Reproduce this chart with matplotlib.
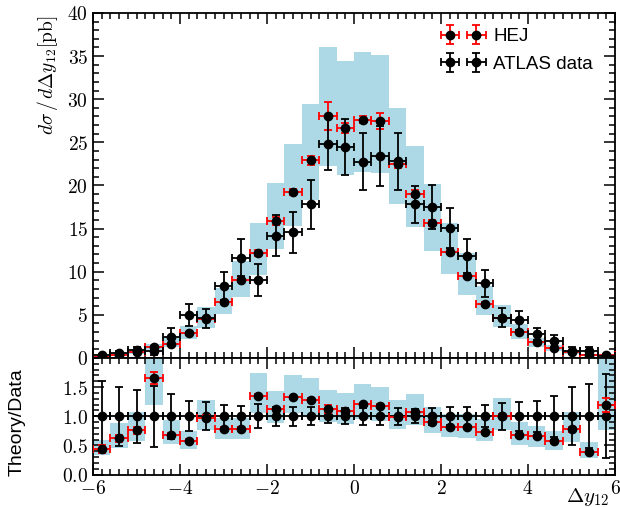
import numpy as np
import matplotlib
matplotlib.use('Agg')
import matplotlib.pyplot as plt
from matplotlib.ticker import MultipleLocator, FuncFormatter

plt.rcParams['mathtext.fontset'] = 'cm'

# bin centres of delta y12 (bin width 0.4)
dy = [-5.8, -5.4, -5.0, -4.6, -4.2, -3.8, -3.4, -3.0, -2.6, -2.2,
      -1.8, -1.4, -1.0, -0.6, -0.2, 0.2, 0.6, 1.0, 1.4, 1.8,
      2.2, 2.6, 3.0, 3.4, 3.8, 4.2, 4.6, 5.0, 5.4, 5.8]
half_bin = 0.2

atlas = [0.30, 0.55, 0.90, 0.78, 2.47, 4.98, 4.60, 8.33, 11.65, 9.03,
         14.20, 14.55, 17.80, 24.85, 24.46, 22.76, 23.40, 22.80, 17.80, 17.50,
         15.10, 11.80, 8.64, 4.67, 4.40, 2.78, 1.97, 0.85, 0.85, 0.25]
atlas_err = [0.18, 0.28, 0.41, 0.41, 0.95, 1.27, 1.10, 1.66, 2.10, 1.85,
             2.35, 2.40, 2.80, 3.05, 3.30, 3.30, 3.45, 3.30, 2.10, 2.50,
             2.30, 1.95, 1.60, 1.07, 1.10, 0.75, 0.69, 0.42, 0.47, 0.18]
hej = [0.13, 0.34, 0.68, 1.29, 1.68, 2.85, 4.50, 6.48, 9.10, 12.20,
       15.85, 19.25, 22.90, 28.05, 26.65, 27.60, 27.47, 22.50, 19.05, 15.66,
       12.30, 9.53, 6.25, 4.67, 2.97, 1.82, 1.12, 0.66, 0.33, 0.30]
hej_err = [0.02, 0.03, 0.05, 0.08, 0.10, 0.15, 0.20, 0.25, 0.30, 0.35,
           0.45, 0.35, 0.50, 1.65, 0.60, 0.40, 0.90, 0.50, 0.40, 0.35,
           0.30, 0.30, 0.20, 0.15, 0.10, 0.08, 0.06, 0.04, 0.03, 0.03]
band_lo = [0.10, 0.25, 0.51, 0.93, 1.28, 2.16, 3.50, 5.10, 7.10, 9.60,
           12.60, 15.30, 18.30, 22.30, 21.20, 21.60, 21.40, 17.80, 15.20, 12.40,
           9.70, 7.30, 5.00, 3.60, 2.25, 1.33, 0.83, 0.48, 0.24, 0.19]
band_hi = [0.18, 0.49, 0.96, 1.64, 2.30, 3.70, 5.90, 8.10, 11.30, 15.70,
           20.30, 24.80, 29.50, 36.00, 34.40, 35.50, 35.10, 29.00, 24.60, 20.20,
           15.70, 12.20, 8.30, 6.10, 3.95, 2.30, 1.48, 0.91, 0.48, 0.52]

x = np.array(dy)
data = np.array(atlas)
data_err = np.array(atlas_err)
theo = np.array(hej)
theo_err = np.array(hej_err)
lo = np.array(band_lo)
hi = np.array(band_hi)

fig = plt.figure(figsize=(6.2, 5.07), dpi=100)
ax1 = fig.add_axes([0.150, 0.2939, 0.842, 0.6805])
ax2 = fig.add_axes([0.150, 0.0641, 0.842, 0.2298])

eb = dict(fmt='o', color='black', markersize=6, elinewidth=1.3,
          capsize=3, capthick=1.3)

# main panel
ax1.bar(x, hi - lo, bottom=lo, width=0.4, color='lightblue', linewidth=0, zorder=1)
ax1.errorbar(x, theo, yerr=theo_err, xerr=half_bin, ecolor='red',
             label='HEJ', zorder=3, **eb)
ax1.errorbar(x, data, yerr=data_err, xerr=half_bin, ecolor='black',
             label='ATLAS data', zorder=4, **eb)

# ratio panel
ax2.bar(x, (hi - lo) / data, bottom=lo / data, width=0.4, color='lightblue',
        linewidth=0, zorder=1)
ax2.errorbar(x, np.ones_like(data), yerr=data_err / data, xerr=half_bin,
             ecolor='black', zorder=3, **eb)
ax2.errorbar(x, theo / data, yerr=theo_err / data, xerr=half_bin,
             ecolor='red', zorder=4, **eb)

ax1.set_xlim(-6, 6)
ax1.set_ylim(0, 40)
ax2.set_xlim(-6, 6)
ax2.set_ylim(0, 2.0)

ax1.xaxis.set_major_locator(MultipleLocator(2))
ax1.xaxis.set_minor_locator(MultipleLocator(0.2))
ax1.yaxis.set_major_locator(MultipleLocator(5))
ax1.yaxis.set_minor_locator(MultipleLocator(1))
ax2.xaxis.set_major_locator(MultipleLocator(2))
ax2.xaxis.set_minor_locator(MultipleLocator(0.2))
ax2.set_yticks([0.0, 0.5, 1.0, 1.5])
ax2.yaxis.set_minor_locator(MultipleLocator(0.1))

ax1.yaxis.set_major_formatter(FuncFormatter(lambda v, p: '$%g$' % v))
ax1.tick_params(labelbottom=False)
ax2.xaxis.set_major_formatter(FuncFormatter(lambda v, p: '$%g$' % v))
ax2.yaxis.set_major_formatter(FuncFormatter(lambda v, p: '$%.1f$' % v))

for ax in (ax1, ax2):
    ax.tick_params(which='both', direction='in', top=True, right=True,
                   labelsize=14, width=1.1)
    ax.tick_params(which='major', length=8)
    ax.tick_params(which='minor', length=4)
    for s in ax.spines.values():
        s.set_linewidth(1.3)

ax1.set_ylabel(r'$d\sigma\,/\,d\Delta y_{12}[\mathrm{pb}]$', fontsize=14)
ax2.set_ylabel('Theory/Data', fontsize=14, family='Liberation Sans')
ax1.yaxis.set_label_coords(-0.063, 0.82)
ax2.yaxis.set_label_coords(-0.13, 0.45)
ax2.set_xlabel(r'$\Delta y_{12}$', fontsize=15, loc='right')
ax2.xaxis.set_label_coords(0.99, -0.1)

ax1.legend(loc='upper right', frameon=False, numpoints=2, handlelength=2.0,
           prop={'family': 'Liberation Sans', 'size': 13.5},
           bbox_to_anchor=(0.99, 1.005), labelspacing=0.55, handletextpad=0.6)

fig.savefig('out.png', dpi=100)
